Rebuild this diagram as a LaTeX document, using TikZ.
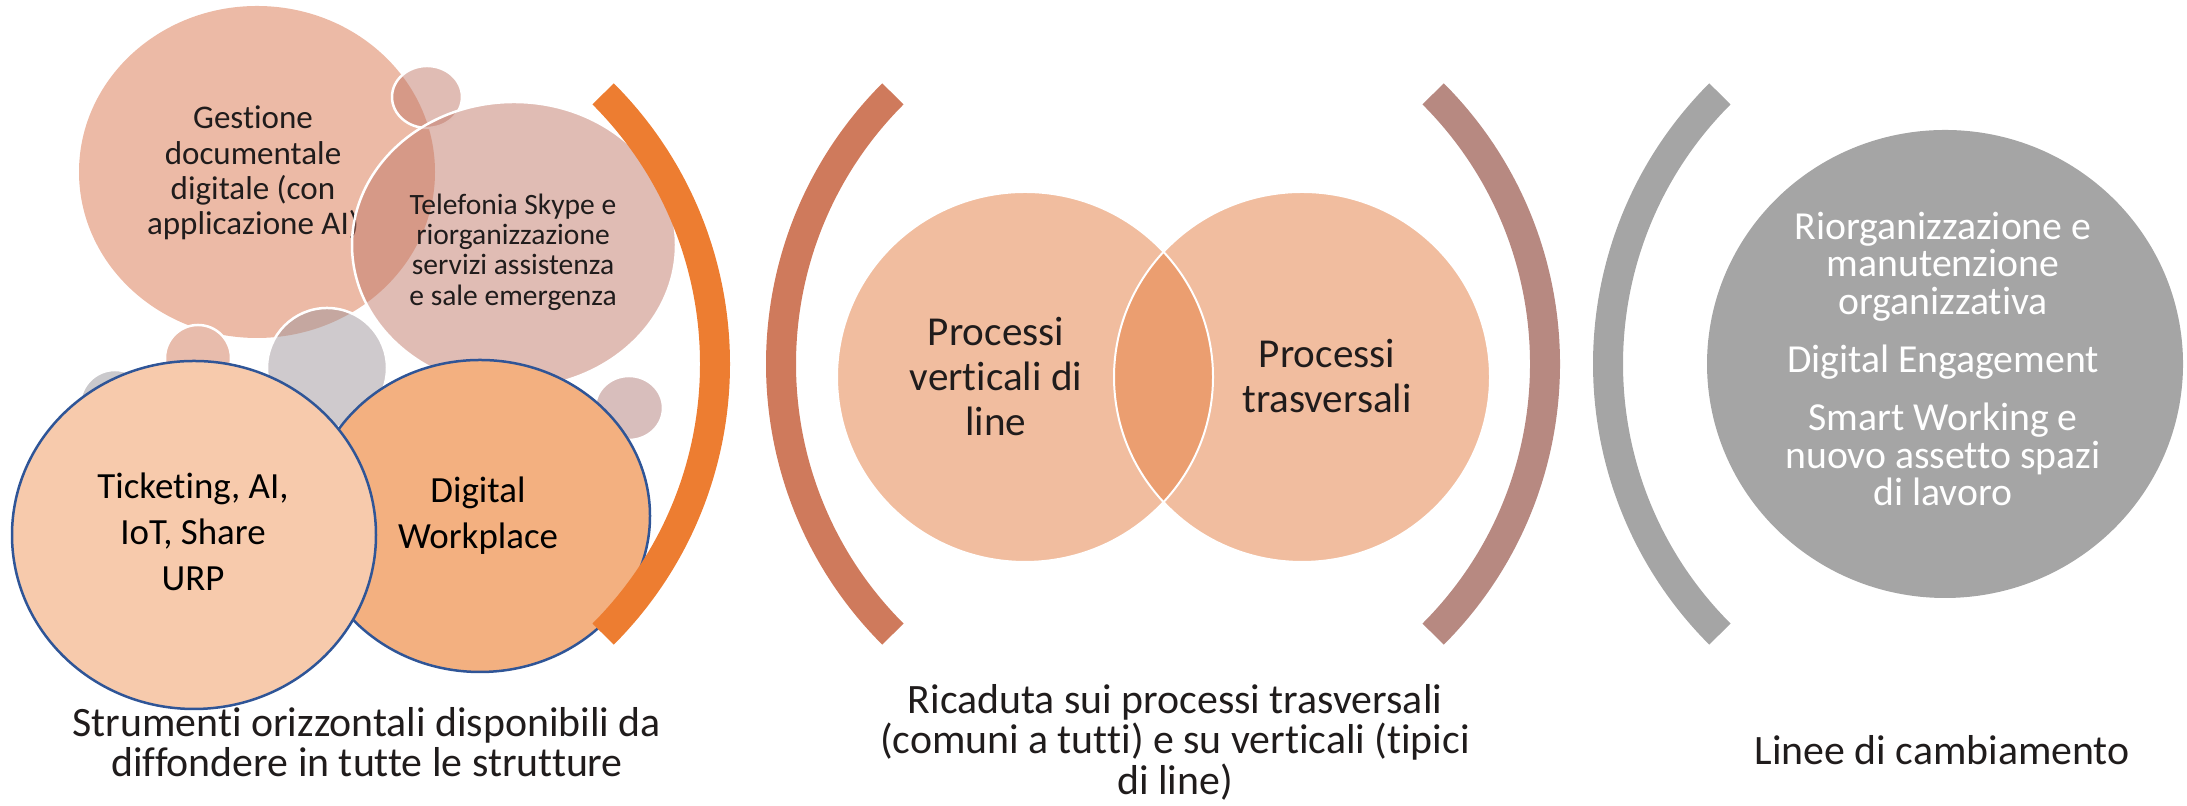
\documentclass[tikz,border=0pt]{standalone}
\usepackage{fontspec}
\setmainfont{Carlito}[Ligatures={NoCommon}]
\usetikzlibrary{calc}
\definecolor{gestc}{RGB}{236,186,166}
\definecolor{bubc}{RGB}{193,121,105}
\definecolor{greyb}{RGB}{160,150,155}
\definecolor{pinkb}{RGB}{232,188,172}
\definecolor{roseb}{RGB}{216,190,188}
\definecolor{lgreyb}{RGB}{202,201,204}
\definecolor{tickc}{RGB}{247,202,172}
\definecolor{dwc}{RGB}{243,176,128}
\definecolor{edgeblue}{RGB}{47,85,151}
\definecolor{brkA}{RGB}{237,125,49}
\definecolor{brkB}{RGB}{207,122,92}
\definecolor{brkC}{RGB}{183,137,129}
\definecolor{brkD}{RGB}{165,165,165}
\definecolor{vennc}{RGB}{241,189,159}
\definecolor{vennx}{RGB}{235,158,112}
\definecolor{txt}{RGB}{32,28,28}
\tikzset{
  bub/.style={draw=white, line width=0.25mm, fill=#1},
  tbub/.style={draw=white, line width=0.25mm, fill=#1, fill opacity=0.5},
  tool/.style={draw=edgeblue, line width=0.25mm, fill=#1},
  brk/.style={draw=#1, line width=3mm},
  gtxt/.style={font=\fontsize{9.4}{10}\selectfont, align=center, text=txt},
  ttxt/.style={font=\fontsize{8.4}{8.6}\selectfont, align=center, text=txt},
  ktxt/.style={font=\fontsize{10.5}{13}\selectfont, align=center, text=black},
  ptxt/.style={font=\fontsize{11.7}{12.8}\selectfont, align=center, text=txt},
  wtxt/.style={font=\fontsize{11.3}{10.6}\selectfont, align=center, text=white},
  captxt/.style={font=\fontsize{11.9}{11.5}\selectfont, align=center, text=txt},
}
\begin{document}
\begin{tikzpicture}[x=0.1mm, y=0.1mm]
  \useasboundingbox (0,0) rectangle (2187,806);

  %% --- strumenti (left) ---
  \coordinate (gest) at (257,634);
  \coordinate (tele) at (514,561);
  \coordinate (tick) at (194,271);
  \coordinate (dwp)  at (480,290);

  \fill[gestc] (gest) ellipse [x radius=17.8mm, y radius=16.6mm];
  \node[gtxt] (gestt) at (253,633) {Gestione\\documentale\\digitale (con\\applicazione AI)};

  % small bubbles
  \draw[tbub=bubc] (427,709) ellipse [x radius=3.5mm, y radius=3.1mm];
  \draw[bub=pinkb] (198,448) circle [radius=3.3mm];
  \draw[bub=lgreyb] (115,401) circle [radius=3.5mm];
  \draw[tbub=greyb] (327,438) circle [radius=6mm];
  \draw[bub=roseb] (629,398) ellipse [x radius=3.4mm, y radius=3.2mm];

  \draw[tbub=bubc] (tele) ellipse [x radius=16.2mm, y radius=14.3mm];
  \node[ttxt] (telet) at (513,554) {Telefonia Skype e\\riorganizzazione\\servizi assistenza\\e sale emergenza};

  % the two outlined tools
  \draw[tool=dwc] (dwp) ellipse [x radius=17mm, y radius=15.6mm];
  \draw[tool=tickc] (tick) ellipse [x radius=18.2mm, y radius=17.4mm];
  \node[ktxt] (dwpt) at (478,290) {Digital\\Workplace};
  \node[ktxt] (tickt) at (193,274) {Ticketing, AI,\\IoT, Share\\URP};

  \node[captxt] (capl) at (367,64) {Strumenti orizzontali disponibili da\\diffondere in tutte le strutture};

  %% --- brackets ---
  \coordinate (cl) at (333,442);
  \coordinate (cm) at (1163,442);
  \coordinate (cr) at (1990,442);
  \foreach \c/\a/\col in {cl/-45/brkA, cm/135/brkB, cm/-45/brkC, cr/135/brkD}
    \draw[brk=\col] (\c) ++(\a:38.2mm) arc [start angle=\a, delta angle=90, radius=38.2mm];

  %% --- processi (middle) ---
  \coordinate (vl) at (1025,429);
  \coordinate (vr) at (1302,429);
  \fill[vennc] (vl) ellipse [x radius=18.8mm, y radius=18.5mm];
  \fill[vennc] (vr) ellipse [x radius=18.8mm, y radius=18.5mm];
  \begin{scope}
    \clip (vl) ellipse [x radius=18.8mm, y radius=18.5mm];
    \fill[vennx] (vr) ellipse [x radius=18.8mm, y radius=18.5mm];
  \end{scope}
  \draw[white, line width=0.2mm] (vl) ellipse [x radius=18.8mm, y radius=18.5mm];
  \draw[white, line width=0.2mm] (vr) ellipse [x radius=18.8mm, y radius=18.5mm];
  \node[ptxt] (vlt) at (996,429) {Processi\\verticali di\\line};
  \node[ptxt] (vrt) at (1327,430) {Processi\\trasversali};

  \node[captxt] (capm) at (1175,64) {Ricaduta sui processi trasversali\\(comuni a tutti) e su verticali (tipici\\di line)};

  %% --- cambiamento (right) ---
  \coordinate (gr) at (1945,442);
  \fill[brkD] (gr) ellipse [x radius=23.8mm, y radius=23.4mm];
  \node[wtxt] (grt) at (1943,447) {Riorganizzazione e\\manutenzione\\organizzativa\\[6pt]Digital Engagement\\[6pt]Smart Working e\\nuovo assetto spazi\\di lavoro};

  \node[captxt] (capr) at (1942,56) {Linee di cambiamento};
\end{tikzpicture}
\end{document}
